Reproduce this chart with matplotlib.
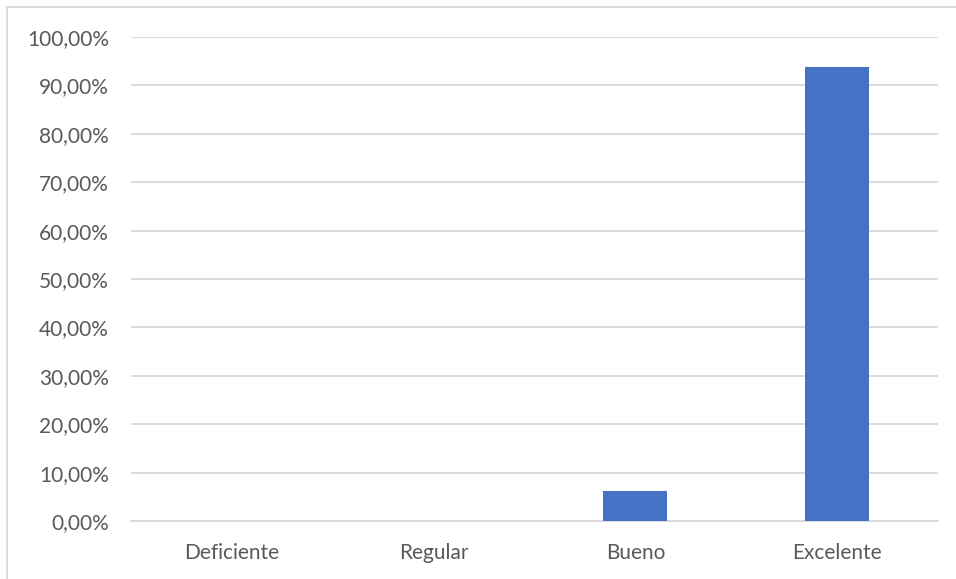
import matplotlib.pyplot as plt
from matplotlib.patches import Rectangle
from matplotlib.ticker import FuncFormatter
import numpy as np

categorias = ["Deficiente", "Regular", "Bueno", "Excelente"]
porcentajes = [0.0, 0.0, 6.25, 93.75]

plt.rcParams['font.family'] = ['Lato', 'DejaVu Sans']

fig = plt.figure(figsize=(9.56, 5.79), dpi=100)
ax = fig.add_axes([131/956, 1-521/579, (938-131)/956, (521-37)/579])

x = np.arange(len(categorias))
ax.bar(x, porcentajes, width=0.317, color="#4472c4", zorder=3)

ax.set_xlim(-0.5, len(categorias)-0.5)
ax.set_ylim(0, 100)
ax.set_yticks(np.arange(0, 101, 10))
ax.yaxis.set_major_formatter(FuncFormatter(lambda v, p: f"{v:.2f}%".replace(".", ",")))
ax.set_xticks(x)
ax.set_xticklabels(categorias)

ax.grid(axis="y", color="#d9d9d9", linewidth=1.3, zorder=0)
for s in ["top", "right", "left"]:
    ax.spines[s].set_visible(False)
ax.spines["bottom"].set_color("#d9d9d9")
ax.spines["bottom"].set_linewidth(1.3)
ax.tick_params(axis="both", length=0, labelsize=15, colors="#595959")
ax.tick_params(axis="y", pad=16)
ax.tick_params(axis="x", pad=16)

# marco del grafico
fig.patches.append(Rectangle((7/956, -0.05), 1.2, 1-7/579+0.05, transform=fig.transFigure,
                             fill=False, edgecolor="#d9d9d9", linewidth=1.3))

fig.savefig("out.png", dpi=100)
